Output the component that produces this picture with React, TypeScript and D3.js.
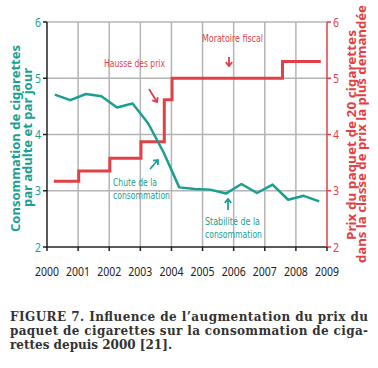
import React from 'react';
import * as d3 from 'd3';

const years = [2000, 2001, 2002, 2003, 2004, 2005, 2006, 2007, 2008, 2009];
const yTicks = [2, 3, 4, 5, 6];

// consommation (cigarettes / adulte / jour), points semestriels
const consoT = [2000.25, 2000.75, 2001.25, 2001.75, 2002.25, 2002.75, 2003.25, 2003.75, 2004.25, 2004.75, 2005.25, 2005.75, 2006.25, 2006.75, 2007.25, 2007.75, 2008.25, 2008.75];
const consoV = [4.71, 4.61, 4.72, 4.68, 4.48, 4.55, 4.2, 3.68, 3.06, 3.03, 3.02, 2.95, 3.12, 2.96, 3.11, 2.84, 2.91, 2.81];

// prix du paquet (euros), en escalier
const prixT = [2000.22, 2001.02, 2002.02, 2003.02, 2003.77, 2004.02, 2007.57, 2008.8];
const prixV = [3.17, 3.35, 3.58, 3.87, 4.62, 5.0, 5.3, 5.3];

const TEAL = '#1aa091';
const RED = '#e23f47';
const GRID = '#b4b4b4';
const SANS = '"Noto Sans", "DejaVu Sans", sans-serif';
const NOTE = '"DejaVu Sans", sans-serif';

const x = d3.scaleLinear().domain([2000, 2009]).range([47, 327]);
const y = d3.scaleLinear().domain([2, 6]).range([247, 22]);

const arrow = (x1: number, y1: number, x2: number, y2: number, s = 5) => {
  const a = Math.atan2(y2 - y1, x2 - x1);
  const h1 = [x2 - s * Math.cos(a - 0.7), y2 - s * Math.sin(a - 0.7)];
  const h2 = [x2 - s * Math.cos(a + 0.7), y2 - s * Math.sin(a + 0.7)];
  return `M${x1},${y1}L${x2},${y2}M${h1[0]},${h1[1]}L${x2},${y2}L${h2[0]},${h2[1]}`;
};

// texte condensé : on force la largeur mesurée sur la référence
const Narrow = ({ x, y, w, fill, size = 11, anchor = 'start', weight = 400, font = SANS, children }: any) => (
  <text x={x} y={y} dy="0.35em" textAnchor={anchor} fill={fill} fontFamily={font} fontSize={size}
    fontWeight={weight} textLength={w} lengthAdjust="spacingAndGlyphs">{children}</text>
);

export default function App() {
  const consoLine = d3.line<number>()
    .x((_, i) => x(consoT[i]))
    .y(d => y(d));
  const prixLine = d3.line<number>()
    .x((_, i) => x(prixT[i]))
    .y(d => y(d))
    .curve(d3.curveStepAfter);

  return (
    <svg width={378} height={368} style={{ position: 'absolute', left: 0, top: 0, background: '#fff' }}>
      {/* grille */}
      {years.slice(1, -1).map(t => (
        <line key={t} x1={x(t)} x2={x(t)} y1={y(6)} y2={y(2)} stroke={GRID} strokeWidth={1.5} />
      ))}
      {yTicks.slice(1).map(v => (
        <line key={v} x1={x(2000)} x2={x(2009)} y1={y(v)} y2={y(v)} stroke={GRID} strokeWidth={1.5} />
      ))}

      {/* axes */}
      <line x1={x(2000)} x2={x(2000)} y1={y(6)} y2={y(2)} stroke="#222" strokeWidth={1.5} />
      <line x1={x(2000) - 1} x2={x(2009)} y1={y(2)} y2={y(2)} stroke="#222" strokeWidth={1.5} />
      <line x1={x(2009)} x2={x(2009)} y1={y(6)} y2={y(2)} stroke={RED} strokeWidth={1.5} />
      {yTicks.map(v => (
        <g key={v}>
          <line x1={x(2000) - 4} x2={x(2000)} y1={y(v)} y2={y(v)} stroke="#222" strokeWidth={1.5} />
          <line x1={x(2009)} x2={x(2009) + 4} y1={y(v)} y2={y(v)} stroke={RED} strokeWidth={1.5} />
          <Narrow x={x(2000) - 6} y={y(v)} w={6} anchor="end" fill={TEAL} size={13}>{v}</Narrow>
          <Narrow x={x(2009) + 6} y={y(v)} w={6} fill={RED} size={13}>{v}</Narrow>
        </g>
      ))}
      {years.map(t => (
        <g key={t}>
          <line x1={x(t)} x2={x(t)} y1={y(2)} y2={y(2) + 4} stroke="#222" strokeWidth={1.5} />
          <Narrow x={x(t)} y={271} w={24} anchor="middle" fill="#222" size={13}>{t}</Narrow>
        </g>
      ))}

      {/* séries */}
      <path d={prixLine(prixV) || ''} fill="none" stroke={RED} strokeWidth={3} />
      <path d={consoLine(consoV) || ''} fill="none" stroke={TEAL} strokeWidth={2.5} strokeLinejoin="round" />

      {/* annotations */}
      <Narrow x={104} y={63} w={61} fill={RED} font={NOTE}>Hausse des prix</Narrow>
      <path d={arrow(149, 89, 157, 102)} fill="none" stroke={RED} strokeWidth={1.8} />
      <Narrow x={202} y={38} w={61} fill={RED} font={NOTE}>Moratoire fiscal</Narrow>
      <path d={arrow(229, 57, 229, 66)} fill="none" stroke={RED} strokeWidth={1.8} />

      <Narrow x={113} y={182} w={44} fill={TEAL} font={NOTE}>Chute de la</Narrow>
      <Narrow x={113} y={195} w={57} fill={TEAL} font={NOTE}>consommation</Narrow>
      <path d={arrow(150, 169, 158, 160)} fill="none" stroke={TEAL} strokeWidth={1.8} />
      <Narrow x={205} y={221.5} w={55} fill={TEAL} font={NOTE}>Stabilité de la</Narrow>
      <Narrow x={205} y={234.5} w={57} fill={TEAL} font={NOTE}>consommation</Narrow>
      <path d={arrow(228, 210, 228, 199)} fill="none" stroke={TEAL} strokeWidth={1.8} />

      {/* titres d'axes */}
      <g transform="translate(16,138.5) rotate(-90)">
        <Narrow x={0} y={0} w={187} anchor="middle" fill={TEAL} size={12.5} weight={700}>Consommation de cigarettes</Narrow>
      </g>
      <g transform="translate(27.5,137.5) rotate(-90)">
        <Narrow x={0} y={0} w={139} anchor="middle" fill={TEAL} size={12.5} weight={700}>par adulte et par jour</Narrow>
      </g>
      <g transform="translate(351.5,135) rotate(-90)">
        <Narrow x={0} y={0} w={210} anchor="middle" fill={RED} size={12} weight={700}>Prix du paquet de 20 cigarettes</Narrow>
      </g>
      <g transform="translate(362,134) rotate(-90)">
        <Narrow x={0} y={0} w={258} anchor="middle" fill={RED} size={12} weight={700}>dans la classe de prix la plus demandée</Narrow>
      </g>

      {/* légende */}
      <g fontFamily='"DejaVu Serif", serif' fontWeight="bold" fontSize={12} fill="#333">
        <text x={10} y={321} textLength={358} lengthAdjust="spacing">FIGURE 7. Influence de l’augmentation du prix du</text>
        <text x={10} y={335} textLength={358} lengthAdjust="spacing">paquet de cigarettes sur la consommation de ciga-</text>
        <text x={10} y={349}>rettes depuis 2000 [21].</text>
      </g>
    </svg>
  );
}
